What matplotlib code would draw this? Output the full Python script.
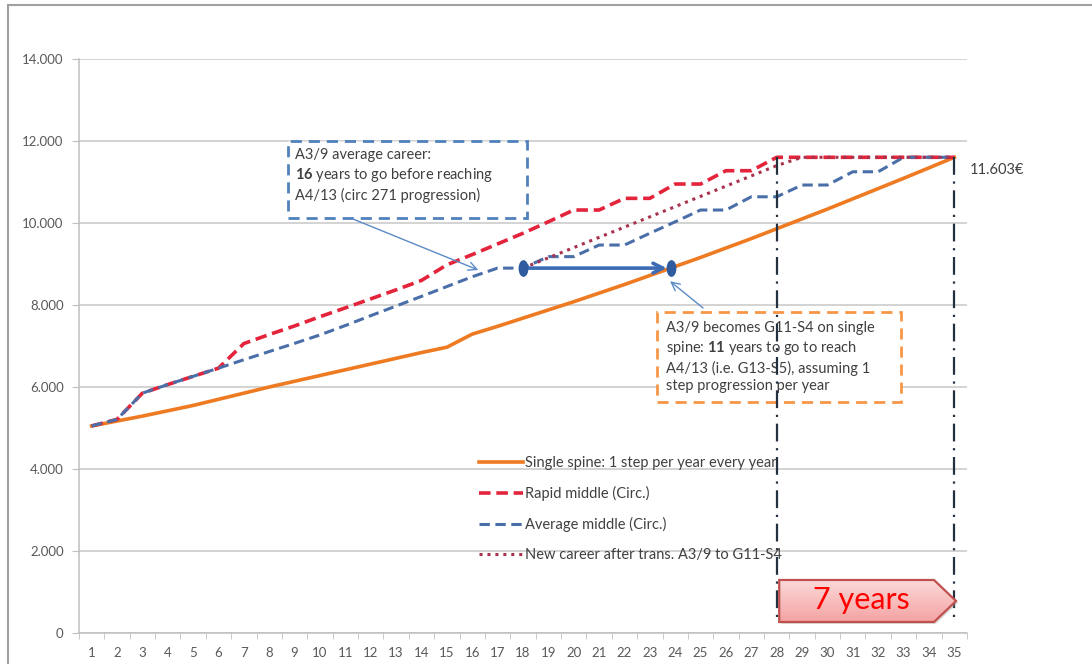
import numpy as np
import matplotlib.pyplot as plt
import matplotlib.path as mpath
import matplotlib.patches as mpatches
from matplotlib.transforms import Affine2D
from matplotlib.colors import LinearSegmentedColormap
from matplotlib.ticker import FuncFormatter, MultipleLocator, FixedLocator

plt.rcParams['font.family'] = ['Lato', 'DejaVu Sans']
plt.rcParams['mathtext.fontset'] = 'custom'
plt.rcParams['mathtext.rm'] = 'Lato'
plt.rcParams['mathtext.bf'] = 'Lato:bold'

# salary per year of career (EUR)
years = np.arange(1, 36)
single_spine = [5050, 5170, 5290, 5420, 5550, 5700, 5850, 6000, 6140, 6280,
                6420, 6560, 6700, 6840, 6970, 7290, 7480, 7680, 7880, 8080,
                8290, 8500, 8720, 8940, 9160, 9390, 9620, 9860, 10100, 10340,
                10590, 10840, 11090, 11345, 11603]
rapid_middle = [5050, 5210, 5850, 6060, 6260, 6460, 7060, 7280, 7490, 7715,
                7930, 8150, 8370, 8600, 8980, 9230, 9490, 9750, 10030, 10317,
                10317, 10602, 10602, 10951, 10951, 11276, 11276, 11603, 11603, 11603,
                11603, 11603, 11603, 11603, 11603]
average_middle = [5050, 5210, 5850, 6060, 6260, 6460, 6665, 6865, 7065, 7270,
                  7500, 7740, 7975, 8210, 8450, 8690, 8900, 8900, 9180, 9180,
                  9463, 9463, 9750, 10030, 10317, 10317, 10640, 10640, 10927, 10927,
                  11250, 11250, 11603, 11603, 11603]
new_career_years = np.arange(18, 36)
new_career = [8900, 9150, 9400, 9650, 9900, 10150, 10400, 10650, 10900, 11150,
              11400, 11603, 11603, 11603, 11603, 11603, 11603, 11603]

labels = ['Single spine: 1 step per year every year', 'Rapid middle (Circ.)',
          'Average middle (Circ.)', 'New career after trans. A3/9 to G11-S4']

transfer_year = 18
transfer_salary = 8900
marker_years = [28, 35]
top_salary = 11603

c_orange = '#EE7A22'
c_red = '#E3243B'
c_blue = '#4A6FA8'
c_dot = '#A8324E'
c_arrow = '#3D6CB4'
c_grey = '#595959'

fig = plt.figure(figsize=(10.92, 6.64), dpi=100)
ax = fig.add_axes([0.0723, 0.0467, 0.8132, 0.8644])

ax.plot(years, single_spine, color=c_orange, lw=2.6, label=labels[0], zorder=3)
ax.plot(years, rapid_middle, color=c_red, lw=2.6, ls=(0, (3.2, 1.6)), label=labels[1], zorder=3)
ax.plot(years, average_middle, color=c_blue, lw=2.2, ls=(0, (3.4, 1.8)), label=labels[2], zorder=3)
ax.plot(new_career_years, new_career, color=c_dot, lw=2.2, ls=(0, (1, 1.6)), label=labels[3], zorder=3)

# dash-dot markers for the 7 year gap
for yr in marker_years:
    ax.plot([yr, yr], [top_salary, 300], color='#22303F', lw=1.6,
            ls=(0, (8, 3, 1, 3)), zorder=4)

# horizontal jump from the average career onto the single spine
x_end = np.interp(transfer_salary, single_spine, years)
ax.annotate('', xy=(x_end - 0.15, transfer_salary), xytext=(transfer_year, transfer_salary),
            arrowprops=dict(arrowstyle='->,head_length=0.7,head_width=0.35',
                            color=c_arrow, lw=2.6, shrinkA=0, shrinkB=0), zorder=5)
oval = mpath.Path.unit_circle().transformed(Affine2D().scale(0.55, 1.0))
ax.plot([transfer_year, x_end], [transfer_salary, transfer_salary], ls='none',
        marker=oval, ms=11, color='#2F5C9E', zorder=6)

# callout boxes
box_blue = mpatches.Rectangle((8.72, 10123), 18.17 - 8.72, 12000 - 10123, fc='white',
                              ec='#4F81BD', lw=2, ls=(0, (4, 2.5)), zorder=5)
ax.add_patch(box_blue)
ax.text(9.0, 11830, 'A3/9 average career:\n$\\bf{16}$ years to go before reaching\nA4/13 (circ 271 progression)',
        fontsize=10.5, color='#404040', va='top', ha='left', linespacing=1.3, zorder=6)
ax.annotate('', xy=(16.24, 8854), xytext=(11.2, 10123),
            arrowprops=dict(arrowstyle='->,head_length=0.6,head_width=0.3',
                            color='#5B8AC6', lw=1.0, shrinkA=0, shrinkB=0), zorder=5)

box_orange = mpatches.Rectangle((23.3, 5634), 32.9 - 23.3, 7830 - 5634, fc='white',
                                ec='#F79646', lw=2, ls=(0, (4, 2.5)), zorder=3.5)
ax.add_patch(box_orange)
ax.text(23.65, 7600, 'A3/9 becomes G11-S4 on single\nspine: $\\bf{11}$ years to go to reach\n'
        'A4/13 (i.e. G13-S5), assuming 1\nstep progression per year',
        fontsize=10.5, color='#404040', va='top', ha='left', linespacing=1.3, zorder=3.6)
ax.annotate('', xy=(23.8, 8580), xytext=(25.1, 7927),
            arrowprops=dict(arrowstyle='->,head_length=0.6,head_width=0.3',
                            color='#5B8AC6', lw=1.0, shrinkA=0, shrinkB=0), zorder=5)

# "7 years" pentagon arrow with a soft pink gradient
penta = [(28.1, 1293), (34.2, 1293), (35.07, 780), (34.2, 268), (28.1, 268)]
shadow = mpatches.Polygon([(x + 0.08, y - 45) for x, y in penta], closed=True,
                          fc='#999999', ec='none', alpha=0.35, zorder=5.5)
ax.add_patch(shadow)
shape = mpatches.Polygon(penta, closed=True, fc='none', ec='#C0504D', lw=1.6, zorder=7)
ax.add_patch(shape)
grad = np.linspace(0, 1, 64).reshape(-1, 1)
pink = LinearSegmentedColormap.from_list('pink', ['#F4A3A3', '#FCDADA'])
img = ax.imshow(grad, cmap=pink, extent=[28.1, 35.07, 268, 1293], origin='lower',
                aspect='auto', zorder=6)
img.set_clip_path(shape)
ax.text(31.35, 800, '7 years', fontsize=22, color='#FF0000', ha='center', va='center', zorder=8)

ax.text(35.6, 11300, '11.603€', fontsize=10.5, color='#404040', ha='left', va='center',
        clip_on=False)

# axes styling
ax.set_xlim(0.5, 35.5)
ax.set_ylim(0, 14000)
ax.set_xticks(years)
ax.xaxis.set_minor_locator(FixedLocator(np.arange(0.5, 36, 1)))
ax.tick_params(axis='x', which='major', length=0, pad=10, labelsize=9.5, labelcolor=c_grey)
ax.tick_params(axis='x', which='minor', length=4, color='#BFBFBF', direction='out')
ax.yaxis.set_major_locator(MultipleLocator(2000))
ax.yaxis.set_major_formatter(FuncFormatter(lambda v, p: f'{int(v):,}'.replace(',', '.')))
ax.tick_params(axis='y', length=5, color='#BFBFBF', pad=6, labelsize=9.5, labelcolor=c_grey)
ax.grid(axis='y', color='#C8C8C8', lw=1.1)
ax.set_axisbelow(True)
for s in ['top', 'right']:
    ax.spines[s].set_visible(False)
for s in ['left', 'bottom']:
    ax.spines[s].set_color('#BFBFBF')
    ax.spines[s].set_linewidth(1.1)

leg = ax.legend(loc='upper left', bbox_to_anchor=(0.444, 0.318), frameon=False,
                fontsize=10.5, handlelength=3.0, handletextpad=0.15, labelspacing=1.08,
                borderaxespad=0)
for t in leg.get_texts():
    t.set_color('#404040')
leg.set_zorder(4)

fig.patches.append(mpatches.Rectangle((0.0073, -0.1), 1.2, 1.0925, transform=fig.transFigure,
                                      fill=False, ec='#A0A0A0', lw=1.5))

fig.savefig('out.png', dpi=100)
